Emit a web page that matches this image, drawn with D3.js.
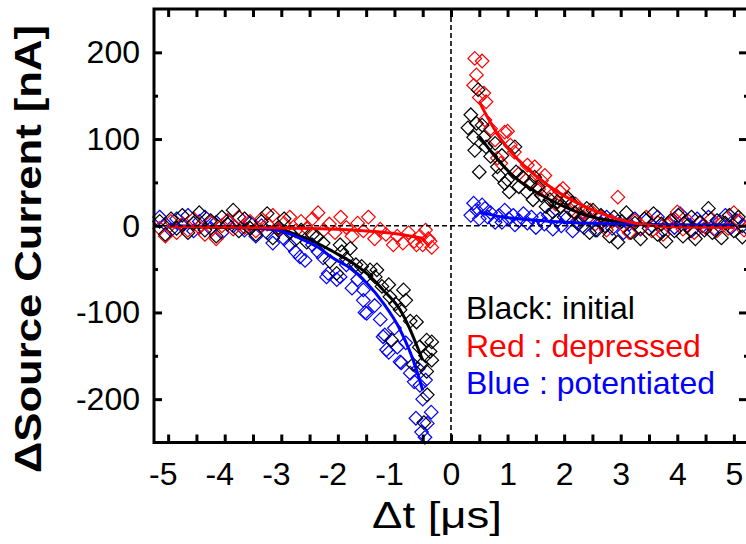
<!DOCTYPE html>
<html>
<head>
<meta charset="utf-8">
<script src="https://cdn.jsdelivr.net/npm/d3@7"></script>
<style>
  html, body { margin: 0; padding: 0; background: #fff; }
  svg { display: block; font-family: "Liberation Sans", Arial, sans-serif; }
</style>
</head>
<body>
<svg id="chart" width="746" height="544"></svg>
<script>
// Tick values
const xMajorTicks = [-5, -4, -3, -2, -1, 0, 1, 2, 3, 4, 5];
const xMinorTicks = [-5, -4.5, -4, -3.5, -3, -2.5, -2, -1.5, -1, -0.5, 0, 0.5, 1, 1.5, 2, 2.5, 3, 3.5, 4, 4.5, 5];
const yMajorTicks = [-200, -100, 0, 100, 200];
const yMinorTicks = [-150, -50, 50, 150];

// Measured points, negative delay  [dt (µs), ΔI (nA)]
const blackNeg = [
  [-5.15, 5], [-5.05, -10], [-4.95, 8], [-4.85, -3], [-4.75, 12], [-4.65, -8], [-4.55, 3], [-4.45, 15],
  [-4.35, -5], [-4.25, 6], [-4.15, -12], [-4.05, 10], [-3.95, 2], [-3.85, 18], [-3.75, -6], [-3.65, 8],
  [-3.55, -3], [-3.45, -10], [-3.35, 5], [-3.25, 14], [-3.15, -14], [-3.05, -2], [-2.95, 8], [-2.85, -8],
  [-2.75, -16], [-2.65, -5], [-2.55, -19], [-2.45, -10], [-2.37, -13], [-2.26, -20], [-2.14, -41], [-2.02, -55],
  [-1.96, -22], [-1.93, -30], [-1.85, -38], [-1.78, -26], [-1.68, -45], [-1.58, -47], [-1.5, -58], [-1.43, -51],
  [-1.34, -59], [-1.31, -51], [-1.22, -70], [-1.1, -68], [-1.08, -82], [-1.05, -132], [-0.98, -90], [-0.9, -97],
  [-0.84, -74], [-0.8, -86], [-0.72, -110], [-0.67, -160], [-0.61, -111], [-0.56, -140], [-0.52, -160], [-0.48, -227],
  [-0.45, -150], [-0.43, -132], [-0.43, -168], [-0.42, -195], [-0.37, -145], [-0.34, -134], [-0.34, -155]
];
const redNeg = [
  [-5.15, -3], [-5.05, -12], [-4.95, 5], [-4.85, -8], [-4.75, 2], [-4.65, -5], [-4.55, 8], [-4.45, -2],
  [-4.35, -10], [-4.25, 4], [-4.15, -15], [-4.05, 0], [-3.95, 6], [-3.85, -4], [-3.75, 10], [-3.65, -2],
  [-3.55, 5], [-3.45, -6], [-3.35, 8], [-3.25, 2], [-3.15, 12], [-3.05, -4], [-2.95, 3], [-2.85, 10],
  [-2.75, -6], [-2.65, 5], [-2.55, -3], [-2.45, 8], [-2.35, 15], [-2.25, -5], [-2.15, 2], [-2.05, -8],
  [-1.95, 10], [-1.85, -2], [-1.75, -12], [-1.65, 3], [-1.55, -6], [-1.46, 10], [-1.35, -15], [-1.25, -4],
  [-1.15, -10], [-1.02, -22], [-0.95, -12], [-0.85, -20], [-0.75, -8], [-0.65, -18], [-0.61, -22], [-0.55, -12],
  [-0.5, -22], [-0.45, -5], [-0.4, -15], [-0.37, -18], [-0.34, -25]
];
const blueNeg = [
  [-5.15, 10], [-5.05, 2], [-4.95, -5], [-4.85, 8], [-4.75, 0], [-4.65, 12], [-4.55, -6], [-4.45, 5],
  [-4.35, 10], [-4.25, -3], [-4.15, 4], [-4.05, -8], [-3.95, 6], [-3.85, 0], [-3.75, 10], [-3.65, -5],
  [-3.55, 3], [-3.45, -12], [-3.35, 0], [-3.25, -8], [-3.15, -20], [-3.05, -5], [-2.95, -15], [-2.85, -22],
  [-2.75, -30], [-2.67, -36], [-2.58, -40], [-2.45, -22], [-2.35, -30], [-2.26, -37], [-2.2, -59], [-2.17, -55],
  [-2.02, -62], [-1.96, -59], [-1.85, -45], [-1.75, -72], [-1.65, -62], [-1.55, -74], [-1.55, -86], [-1.52, -100],
  [-1.49, -101], [-1.35, -92], [-1.25, -108], [-1.2, -128], [-1.17, -126], [-1.14, -143], [-1.1, -146], [-1.0, -118],
  [-0.95, -140], [-0.9, -157], [-0.88, -158], [-0.8, -135], [-0.72, -170], [-0.65, -180], [-0.62, -222], [-0.58, -165],
  [-0.55, -184], [-0.52, -238], [-0.5, -200], [-0.46, -244], [-0.45, -178], [-0.42, -228], [-0.35, -215]
];

// Measured points, positive delay
const blackPos = [
  [0.3, 113], [0.35, 128], [0.4, 102], [0.42, 87], [0.45, 118], [0.48, 157], [0.5, 62], [0.55, 116],
  [0.58, 102], [0.62, 91], [0.7, 80], [0.78, 95], [0.82, 68], [0.85, 58], [0.9, 81], [0.95, 49],
  [1.0, 53], [1.03, 39], [1.13, 91], [1.15, 62], [1.2, 45], [1.27, 56], [1.34, 39], [1.4, 48],
  [1.45, 30], [1.48, 56], [1.54, 45], [1.6, 35], [1.68, 22], [1.75, 30], [1.8, 16], [1.88, 28],
  [1.93, 22], [2.0, 10], [2.07, 32], [2.14, 26], [2.19, 15], [2.25, 2], [2.31, 9], [2.4, 20],
  [2.45, -8], [2.51, 18], [2.58, -5], [2.65, 12], [2.72, 0], [2.8, -12], [2.88, 10], [2.95, -19],
  [3.02, 5], [3.1, 15], [3.18, -8], [3.25, 3], [3.35, -15], [3.42, 8], [3.5, -3], [3.58, 14],
  [3.65, -10], [3.72, 2], [3.8, -18], [3.88, 6], [3.95, -6], [4.02, 12], [4.1, -12], [4.18, 0],
  [4.25, 10], [4.32, -15], [4.4, 4], [4.48, -5], [4.55, 20], [4.62, -8], [4.7, 6], [4.78, -14],
  [4.85, 3], [4.92, 12], [5.0, -6], [5.08, 10], [5.15, -13]
];
const redPos = [
  [0.4, 162], [0.42, 193], [0.45, 174], [0.5, 148], [0.55, 190], [0.58, 153], [0.6, 122], [0.62, 143],
  [0.7, 112], [0.78, 99], [0.82, 78], [0.88, 72], [0.95, 108], [1.0, 109], [1.05, 93], [1.12, 85],
  [1.2, 60], [1.28, 55], [1.35, 70], [1.42, 50], [1.48, 68], [1.55, 42], [1.6, 52], [1.66, 58],
  [1.7, 39], [1.78, 35], [1.85, 25], [1.92, 40], [1.98, 43], [2.05, 30], [2.12, 18], [2.2, 25],
  [2.28, 8], [2.35, 15], [2.46, 18], [2.55, 2], [2.65, 10], [2.75, -5], [2.85, 5], [2.95, 33],
  [3.05, 0], [3.15, -8], [3.25, 6], [3.35, -3], [3.45, 10], [3.55, -6], [3.65, 4], [3.75, -10],
  [3.85, 2], [3.95, 8], [4.0, 16], [4.1, -4], [4.2, 5], [4.3, -8], [4.4, 3], [4.5, -2],
  [4.6, 8], [4.7, -6], [4.8, 4], [4.9, -3], [5.0, 15], [5.1, 5], [5.18, -5]
];
const bluePos = [
  [0.35, 12], [0.4, 26], [0.45, 18], [0.5, 8], [0.55, 24], [0.6, 20], [0.65, 10], [0.7, 15],
  [0.78, 4], [0.85, 12], [0.9, 4], [0.95, 18], [1.02, 8], [1.1, 12], [1.13, 1], [1.2, 6],
  [1.28, 14], [1.35, 3], [1.42, 10], [1.5, -2], [1.58, 8], [1.65, 2], [1.72, 12], [1.8, -4],
  [1.88, 6], [1.95, 0], [2.05, 9], [2.15, -6], [2.25, 4], [2.35, -2], [2.45, 8], [2.55, -5],
  [2.65, 3], [2.75, 10], [2.85, -3], [2.95, 5], [3.05, -8], [3.15, 2], [3.25, 8], [3.35, -4],
  [3.45, 6], [3.55, 0], [3.65, 10], [3.75, -5], [3.85, 3], [3.95, -2], [4.05, 14], [4.15, 4],
  [4.25, -6], [4.35, 8], [4.45, 0], [4.55, 10], [4.65, -4], [4.75, 5], [4.85, 12], [4.95, -2],
  [5.05, 6], [5.15, 0]
];

// Fitted decay curves
const blackFitNeg = [[-5, -1], [-4, -2], [-3.5, -3], [-3, -5], [-2.67, -12], [-2.37, -20], [-2.08, -30], [-1.78, -41],
  [-1.49, -55], [-1.2, -74], [-0.9, -97], [-0.72, -120], [-0.6, -139], [-0.5, -155]];
const blueFitNeg = [[-5, 0], [-4, -1], [-3.5, -2], [-2.96, -7], [-2.67, -14.5], [-2.37, -24], [-2.08, -37.6], [-1.78, -49],
  [-1.49, -66], [-1.2, -89], [-0.9, -120], [-0.61, -166], [-0.5, -190]];
const redFitNeg = [[-5, -1], [-4, -1.5], [-3, -2.5], [-2, -4], [-1.5, -6], [-1, -9], [-0.75, -11.5], [-0.5, -14.5]];
const blackFitPos = [[0.5, 103], [0.69, 87], [0.87, 73], [1.16, 54], [1.45, 41], [1.75, 30], [2.04, 21], [2.34, 13],
  [2.63, 8], [2.93, 5], [3.52, 1.5], [4.2, 0.5], [5, 0]];
const redFitPos = [[0.5, 143], [0.69, 120], [0.87, 101], [1.16, 78], [1.45, 60], [1.75, 45], [2.04, 33], [2.34, 23],
  [2.63, 15], [2.93, 8], [3.22, 3.5], [3.52, 0.5], [4.1, -1.5], [5, -2]];
const blueFitPos = [[0.5, 16], [0.87, 10.5], [1.45, 6.6], [2.04, 4], [2.93, 2], [4, 1], [5, 1]];

const legendLines = [
  { text: "Black: initial", color: "#000000" },
  { text: "Red : depressed", color: "#ff0000" },
  { text: "Blue : potentiated", color: "#0000ff" }
];

const svg = d3.select("#chart");
const x = d3.scaleLinear().domain([-5.25, 5.25]).range([154, 748]);
const y = d3.scaleLinear().domain([-250, 250]).range([442.5, 9]);

// Zero reference lines
const ref = svg.append("g").attr("stroke", "#000").attr("stroke-width", 1.6).attr("stroke-dasharray", "5,3");

// Scatter markers: hollow diamonds
const diamond = d3.symbol().type(d3.symbolDiamond2).size(118);
function drawPoints(data, color) {
  svg.append("g").selectAll("path").data(data).join("path")
    .attr("d", diamond)
    .attr("transform", d => `translate(${x(d[0])},${y(d[1])})`)
    .attr("fill", "none").attr("stroke", color).attr("stroke-width", 1.2);
}
drawPoints(blueNeg, "#0000ff");
drawPoints(bluePos, "#0000ff");
drawPoints(redNeg, "#ff0000");
drawPoints(redPos, "#ff0000");
drawPoints(blackNeg, "#000000");
drawPoints(blackPos, "#000000");

// Fit curves
const line = d3.line().x(d => x(d[0])).y(d => y(d[1])).curve(d3.curveMonotoneX);
function drawFit(data, color) {
  svg.append("path").datum(data).attr("d", line)
    .attr("fill", "none").attr("stroke", color).attr("stroke-width", 3).attr("stroke-linejoin", "round");
}
drawFit(blackFitNeg, "#000000");
drawFit(blackFitPos, "#000000");
drawFit(blueFitNeg, "#0000ff");
drawFit(blueFitPos, "#0000ff");
drawFit(redFitNeg, "#ff0000");
drawFit(redFitPos, "#ff0000");

ref.append("line").attr("x1", x.range()[0]).attr("x2", x.range()[1]).attr("y1", y(0)).attr("y2", y(0));
ref.append("line").attr("x1", x(0)).attr("x2", x(0)).attr("y1", y.range()[1]).attr("y2", y.range()[0]);
ref.raise();

// Axes, ticks pointing inward on all four sides
function styleAxis(g) {
  g.select(".domain").remove();
  g.selectAll(".tick line").attr("stroke", "#000").attr("stroke-width", 3);
  g.selectAll("text").attr("fill", "#000").attr("font-size", 32)
    .attr("font-family", "'Liberation Sans', Arial, sans-serif");
}
const bottomY = y.range()[0], topY = y.range()[1];
const leftX = x.range()[0], rightX = x.range()[1];

svg.append("g").attr("transform", `translate(0,${bottomY})`)
  .call(d3.axisBottom(x).tickValues(xMinorTicks).tickSize(-8).tickFormat(""))
  .call(styleAxis);
const xLab = svg.append("g").attr("transform", `translate(0,${bottomY})`)
  .call(d3.axisBottom(x).tickValues(xMajorTicks).tickSize(0).tickPadding(20).tickFormat(d3.format("d")))
  .call(styleAxis);
xLab.selectAll(".tick text").attr("dx", d => d < 0 ? "-0.17em" : null).text(d => d < 0 ? "-" + Math.abs(d) : d);
svg.append("g").attr("transform", `translate(0,${topY})`)
  .call(d3.axisTop(x).tickValues(xMinorTicks).tickSize(-8).tickFormat(""))
  .call(styleAxis);

const yLab = svg.append("g").attr("transform", `translate(${leftX},0)`)
  .call(d3.axisLeft(y).tickValues(yMajorTicks).tickSize(-8).tickPadding(14).tickFormat(d => d < 0 ? "-" + Math.abs(d) : d))
  .call(styleAxis);
svg.append("g").attr("transform", `translate(${leftX},0)`)
  .call(d3.axisLeft(y).tickValues(yMinorTicks).tickSize(-4).tickFormat(""))
  .call(styleAxis);
svg.append("g").attr("transform", `translate(${rightX},0)`)
  .call(d3.axisRight(y).tickValues(yMajorTicks).tickSize(-9).tickFormat(""))
  .call(styleAxis);
svg.append("g").attr("transform", `translate(${rightX},0)`)
  .call(d3.axisRight(y).tickValues(yMinorTicks).tickSize(-4).tickFormat(""))
  .call(styleAxis);

// Frame
svg.append("rect").attr("x", leftX).attr("y", topY).attr("width", rightX - leftX).attr("height", bottomY - topY)
  .attr("fill", "none").attr("stroke", "#000").attr("stroke-width", 3);

// Axis titles
svg.append("text").attr("x", 437).attr("y", 528).attr("text-anchor", "middle")
  .attr("font-size", 36).attr("textLength", 130).attr("lengthAdjust", "spacingAndGlyphs")
  .text("\u0394t [\u03bcs]");
svg.append("text").attr("transform", "translate(41,249) rotate(-90)").attr("text-anchor", "middle")
  .attr("font-size", 36).attr("font-weight", "bold").attr("textLength", 448).attr("lengthAdjust", "spacingAndGlyphs")
  .text("\u0394Source Current [nA]");

// Legend text
svg.append("g").selectAll("text").data(legendLines).join("text")
  .attr("x", 466).attr("y", (d, i) => 319 + i * 37.5)
  .attr("font-size", 32).attr("fill", d => d.color)
  .text(d => d.text);
</script>
</body>
</html>
